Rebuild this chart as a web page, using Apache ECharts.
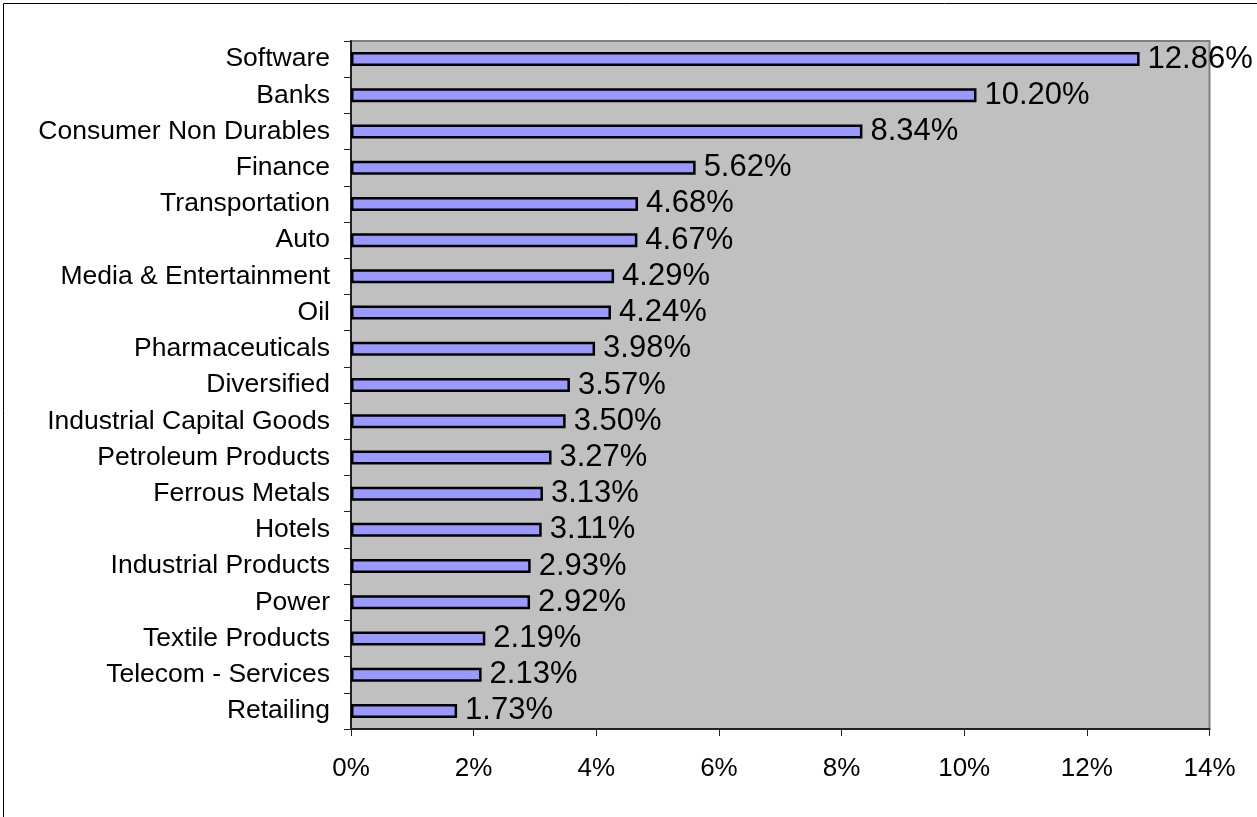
<!DOCTYPE html>
<html>
<head>
<meta charset="utf-8">
<script src="https://cdn.jsdelivr.net/npm/echarts@6/dist/echarts.min.js"></script>
<style>
html,body{margin:0;padding:0;background:#fff;}
#chart{width:1257px;height:817px;}
</style>
</head>
<body>
<div id="chart"></div>
<script>
const categories = ["Software","Banks","Consumer Non Durables","Finance","Transportation","Auto","Media & Entertainment","Oil","Pharmaceuticals","Diversified","Industrial Capital Goods","Petroleum Products","Ferrous Metals","Hotels","Industrial Products","Power","Textile Products","Telecom - Services","Retailing"];
const values = [12.86,10.20,8.34,5.62,4.68,4.67,4.29,4.24,3.98,3.57,3.50,3.27,3.13,3.11,2.93,2.92,2.19,2.13,1.73];
const xTicks = [0,2,4,6,8,10,12,14];

const FONT = "'Liberation Sans', Arial, sans-serif";
const chart = echarts.init(document.getElementById('chart'), null, {renderer:'canvas'});
chart.setOption({
  animation:false,
  backgroundColor:'#ffffff',
  graphic:[{
    type:'rect', silent:true, z:-10,
    shape:{x:3.5,y:3.5,width:1400,height:1000},
    style:{fill:'none',stroke:'#000',lineWidth:1}
  }],
  grid:{
    left:351, right:47.5, top:41, bottom:88,
    show:true, backgroundColor:'#C0C0C0', borderColor:'#808080', borderWidth:2,
    containLabel:false
  },
  xAxis:{
    type:'value', min:xTicks[0], max:xTicks[xTicks.length-1], interval:2,
    splitLine:{show:false},
    axisLine:{show:true,lineStyle:{color:'#222',width:2}},
    axisTick:{show:true,length:7,lineStyle:{color:'#222',width:1}},
    axisLabel:{margin:27,fontFamily:FONT,fontSize:26,color:'#000',formatter:v=>v+'%'}
  },
  yAxis:{
    type:'category', data:categories, inverse:true,
    axisLine:{show:true,lineStyle:{color:'#222',width:2}},
    axisTick:{show:true,length:7,alignWithLabel:false,lineStyle:{color:'#222',width:1}},
    axisLabel:{margin:21,fontFamily:FONT,fontSize:26.5,color:'#000'}
  },
  series:[{
    type:'bar', data:values, barWidth:14,
    itemStyle:{color:'#9999FF',borderColor:'#000',borderWidth:2.5},
    label:{show:true,position:'right',distance:8,fontFamily:FONT,fontSize:31,color:'#000',
      formatter:p=>p.value.toFixed(2)+'%'}
  }]
});
</script>
</body>
</html>
